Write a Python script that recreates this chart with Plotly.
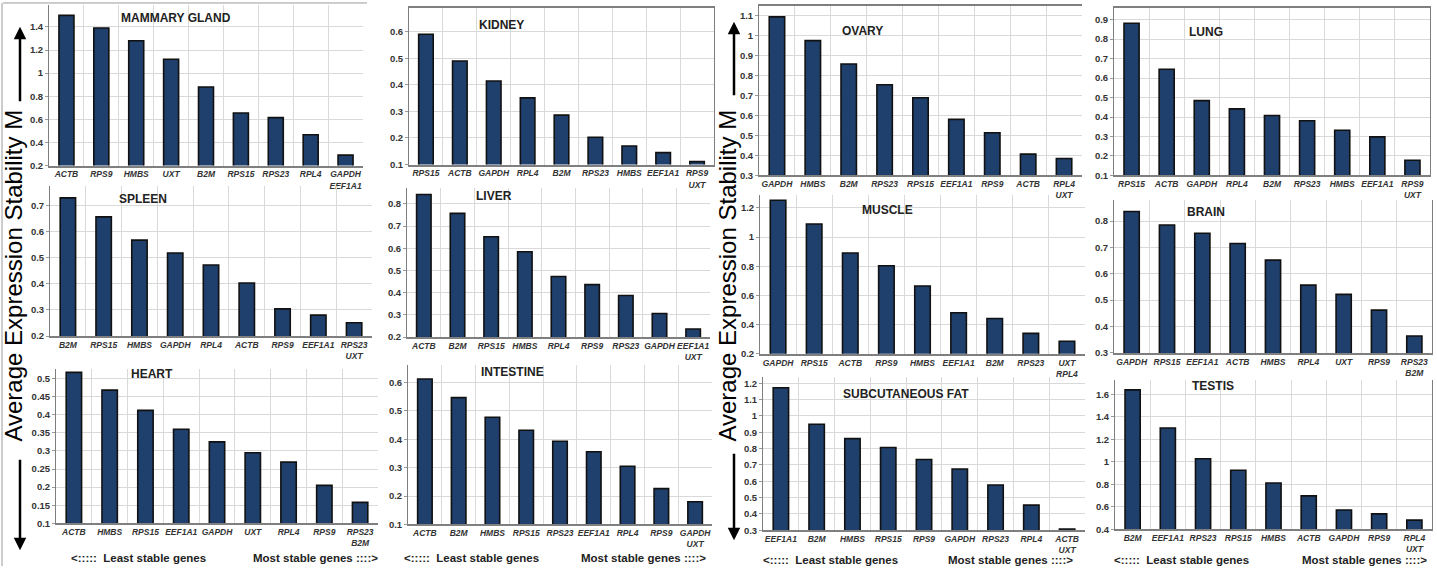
import plotly.graph_objects as go

W, H = 1437, 571
FONT = "Liberation Sans"
BAR = "#1f3f6d"
GRID = "#d9d9d9"

# ---------------- data ----------------
mammary_genes = ["ACTB", "RPS9", "HMBS", "UXT", "B2M", "RPS15", "RPS23", "RPL4", "GAPDH<br>EEF1A1"]
mammary_m = [1.50, 1.39, 1.28, 1.12, 0.88, 0.655, 0.615, 0.467, 0.29]

kidney_genes = ["RPS15", "ACTB", "GAPDH", "RPL4", "B2M", "RPS23", "HMBS", "EEF1A1", "RPS9<br>UXT"]
kidney_m = [0.591, 0.49, 0.415, 0.351, 0.286, 0.203, 0.17, 0.145, 0.111]

ovary_genes = ["GAPDH", "HMBS", "B2M", "RPS23", "RPS15", "EEF1A1", "RPS9", "ACTB", "RPL4<br>UXT"]
ovary_m = [1.095, 0.976, 0.859, 0.755, 0.69, 0.581, 0.514, 0.407, 0.385]

lung_genes = ["RPS15", "ACTB", "GAPDH", "RPL4", "B2M", "RPS23", "HMBS", "EEF1A1", "RPS9<br>UXT"]
lung_m = [0.881, 0.645, 0.484, 0.442, 0.408, 0.381, 0.332, 0.298, 0.178]

spleen_genes = ["B2M", "RPS15", "HMBS", "GAPDH", "RPL4", "ACTB", "RPS9", "EEF1A1", "RPS23<br>UXT"]
spleen_m = [0.729, 0.656, 0.567, 0.518, 0.472, 0.403, 0.304, 0.28, 0.251]

liver_genes = ["ACTB", "B2M", "RPS15", "HMBS", "RPL4", "RPS9", "RPS23", "GAPDH", "EEF1A1<br>UXT"]
liver_m = [0.842, 0.757, 0.652, 0.584, 0.473, 0.436, 0.387, 0.306, 0.236]

muscle_genes = ["GAPDH", "RPS15", "ACTB", "RPS9", "HMBS", "EEF1A1", "B2M", "RPS23", "UXT<br>RPL4"]
muscle_m = [1.252, 1.089, 0.891, 0.803, 0.665, 0.482, 0.442, 0.34, 0.286]

brain_genes = ["GAPDH", "RPS15", "EEF1A1", "ACTB", "HMBS", "RPL4", "UXT", "RPS9", "RPS23<br>B2M"]
brain_m = [0.836, 0.785, 0.754, 0.715, 0.652, 0.557, 0.522, 0.462, 0.364]

heart_genes = ["ACTB", "HMBS", "RPS15", "EEF1A1", "GAPDH", "UXT", "RPL4", "RPS9", "RPS23<br>B2M"]
heart_m = [0.517, 0.468, 0.412, 0.36, 0.325, 0.295, 0.269, 0.205, 0.158]

intestine_genes = ["ACTB", "B2M", "HMBS", "RPS15", "RPS23", "EEF1A1", "RPL4", "RPS9", "GAPDH<br>UXT"]
intestine_m = [0.613, 0.547, 0.478, 0.432, 0.393, 0.356, 0.305, 0.226, 0.18]

fat_genes = ["EEF1A1", "B2M", "HMBS", "RPS15", "RPS9", "GAPDH", "RPS23", "RPL4", "ACTB<br>UXT"]
fat_m = [1.172, 0.949, 0.861, 0.807, 0.733, 0.675, 0.577, 0.454, 0.308]

testis_genes = ["B2M", "EEF1A1", "RPS23", "RPS15", "HMBS", "ACTB", "GAPDH", "RPS9", "RPL4<br>UXT"]
testis_m = [1.639, 1.30, 1.027, 0.925, 0.811, 0.697, 0.572, 0.537, 0.482]

titles = ["MAMMARY GLAND", "KIDNEY", "OVARY", "LUNG",
          "SPLEEN", "LIVER", "MUSCLE", "BRAIN",
          "HEART", "INTESTINE", "SUBCUTANEOUS FAT", "TESTIS"]
y_label = "Average Expression Stability M"
least_txt = "&lt;:::::  Least stable genes"
most_txt = "Most stable genes ::::&gt;"

# ---------------- layout helpers ----------------
def px(x):
    return x / W

def py(y):
    return 1 - y / H

# (genes, values, plot box x0,x1,y0,y1 in px, y range, dtick, title centre px, frame top, frame right)
panels = [
    (mammary_genes, mammary_m, (49, 363, 5, 167), (0.2, 1.59), 0.2, (176, 18), False, False),
    (kidney_genes, kidney_m, (409, 714, 8, 166), (0.1, 0.69), 0.1, (501, 25), True, True),
    (ovary_genes, ovary_m, (759, 1082, 6, 177), (0.3, 1.15), 0.1, (862, 31), True, False),
    (lung_genes, lung_m, (1114, 1430, 8, 177), (0.1, 0.96), 0.1, (1206, 32), True, True),
    (spleen_genes, spleen_m, (50, 372, 188, 339), (0.2, 0.773), 0.1, (143, 201), False, False),
    (liver_genes, liver_m, (407, 710, 190, 340), (0.2, 0.87), 0.1, (494, 198), False, False),
    (muscle_genes, muscle_m, (760, 1085, 197, 357), (0.2, 1.286), 0.2, (888, 212), False, False),
    (brain_genes, brain_m, (1114, 1432, 202, 356), (0.3, 0.879), 0.1, (1206, 214), False, True),
    (heart_genes, heart_m, (56, 378, 372, 528), (0.1, 0.527), 0.05, (152, 377), False, False),
    (intestine_genes, intestine_m, (408, 712, 368, 529), (0.1, 0.663), 0.1, (512, 375), False, False),
    (fat_genes, fat_m, (763, 1085, 380, 535), (0.3, 1.24), 0.1, (906, 397), False, False),
    (testis_genes, testis_m, (1115, 1432, 383, 534), (0.4, 1.73), 0.2, (1213, 389), False, True),
]

fig = go.Figure()
layout = {}
annotations = []

for i, (genes, vals, box, yr, dt, tpos, ftop, fright) in enumerate(panels, start=1):
    xa = "x" if i == 1 else f"x{i}"
    ya = "y" if i == 1 else f"y{i}"
    xk = "xaxis" if i == 1 else f"xaxis{i}"
    yk = "yaxis" if i == 1 else f"yaxis{i}"
    x0, x1, y0, y1 = box
    fig.add_trace(go.Bar(
        x=genes, y=vals, xaxis=xa, yaxis=ya,
        marker=dict(color=BAR, line=dict(color="#111111", width=1.6)),
        showlegend=False, hoverinfo="x+y",
    ))
    layout[xk] = dict(
        domain=[px(x0), px(x1)], anchor=ya, type="category",
        tickson="boundaries", showgrid=True, gridcolor=GRID, gridwidth=1,
        showline=True, linecolor="#7f7f7f", linewidth=1.5,
        mirror=ftop, ticks="", range=[-0.5, 8.5],
        tickfont=dict(family=FONT, size=8.5, color="#333333", weight="bold", style="italic"),
        tickangle=0, fixedrange=True,
    )
    layout[yk] = dict(
        domain=[py(y1), py(y0)], anchor=xa, range=list(yr), dtick=dt, tick0=0,
        showgrid=True, gridcolor=GRID, gridwidth=1, zeroline=False,
        showline=True, linecolor="#7f7f7f", linewidth=1, mirror=fright,
        ticks="outside", ticklen=3, tickcolor="#9a9a9a",
        tickfont=dict(family=FONT, size=9.5, color="#333333", weight="bold"),
        fixedrange=True,
    )
    annotations.append(dict(
        x=px(tpos[0]), y=py(tpos[1]), xref="paper", yref="paper",
        text=f"<b>{titles[i - 1]}</b>", showarrow=False,
        font=dict(family=FONT, size=12, color="#222222"),
        xanchor="center", yanchor="middle",
    ))

# big rotated y labels with arrows
for cx, up_head, up_tail, dn_head, dn_tail in [(14, 27, 103, 555, 463), (728, 22, 97, 545, 457)]:
    annotations.append(dict(
        x=px(cx), y=py(278), xref="paper", yref="paper", text=y_label,
        textangle=-90, showarrow=False,
        font=dict(family=FONT, size=24, color="#000000"),
        xanchor="center", yanchor="middle",
    ))
    ax_x = cx + 6
    annotations.append(dict(
        x=px(ax_x), y=py(up_head), xref="paper", yref="paper", text="",
        showarrow=True, ax=0, ay=up_tail - up_head, arrowhead=2,
        arrowsize=1, arrowwidth=2.5, arrowcolor="#000000",
    ))
    annotations.append(dict(
        x=px(ax_x), y=py(dn_head), xref="paper", yref="paper", text="",
        showarrow=True, ax=0, ay=dn_tail - dn_head, arrowhead=2,
        arrowsize=1, arrowwidth=2.5, arrowcolor="#000000",
    ))

# bottom captions
for lx, rx, yy in [(138, 315, 563), (471, 643, 563), (830, 1010, 565), (1181, 1364, 565)]:
    annotations.append(dict(
        x=px(lx), y=py(yy), xref="paper", yref="paper", text=f"<b>{least_txt}</b>",
        showarrow=False, font=dict(family=FONT, size=11.5, color="#222222"),
        xanchor="center", yanchor="middle",
    ))
    annotations.append(dict(
        x=px(rx), y=py(yy), xref="paper", yref="paper", text=f"<b>{most_txt}</b>",
        showarrow=False, font=dict(family=FONT, size=11.5, color="#222222"),
        xanchor="center", yanchor="middle",
    ))

shapes = [
    dict(type="line", xref="paper", yref="paper", x0=px(3), x1=px(367), y0=py(3), y1=py(3),
         line=dict(color="#9a9a9a", width=1)),
    dict(type="line", xref="paper", yref="paper", x0=px(2), x1=px(2), y0=py(3), y1=py(571),
         line=dict(color="#9a9a9a", width=1)),
]

fig.update_layout(
    width=W, height=H, margin=dict(l=0, r=0, t=0, b=0),
    paper_bgcolor="white", plot_bgcolor="white",
    bargap=0.57, showlegend=False,
    annotations=annotations, shapes=shapes,
    font=dict(family=FONT),
    **layout,
)

fig.write_html("out.html", config={"displayModeBar": False})

# remove default page margins so the figure fills the window exactly
with open("out.html", "r", encoding="utf-8") as f:
    html = f.read()
html = html.replace(
    "<head>",
    "<head><style>html,body{margin:0;padding:0;overflow:hidden;}</style>",
    1,
)
with open("out.html", "w", encoding="utf-8") as f:
    f.write(html)
